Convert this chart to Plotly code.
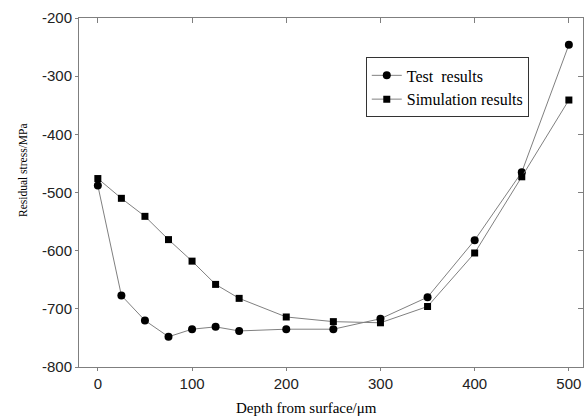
import plotly.graph_objects as go

depth = [0, 25, 50, 75, 100, 125, 150, 200, 250, 300, 350, 400, 450, 500]
test_results = [-488, -677, -720, -748, -735, -731, -738, -735, -735, -717, -680, -582, -465, -246]
sim_results = [-476, -510, -541, -581, -618, -658, -682, -714, -722, -724, -696, -604, -473, -341]

x_ticks = [0, 100, 200, 300, 400, 500]
y_ticks = [-800, -700, -600, -500, -400, -300, -200]
y_tick_text = ["-800", "-700", "-600", "-500", "-400", "-300", "-200"]

line_col = "#808080"
axis_col = "#7f7f7f"

fig = go.Figure()
fig.add_trace(go.Scatter(
    x=depth, y=test_results, mode="lines+markers", name="Test  results",
    line=dict(color=line_col, width=1),
    marker=dict(symbol="circle", size=8, color="black"),
))
fig.add_trace(go.Scatter(
    x=depth, y=sim_results, mode="lines+markers", name="Simulation results",
    line=dict(color=line_col, width=1),
    marker=dict(symbol="square", size=7, color="black"),
))
# invisible trace to anchor mirrored inside-tick axes
fig.add_trace(go.Scatter(x=[depth[0]], y=[test_results[0]], xaxis="x2", yaxis="y2",
                         mode="markers", marker=dict(opacity=0), showlegend=False,
                         hoverinfo="skip"))

xr = [-20, 515]
yr = [-800, -200]
tick_font = dict(family="Liberation Sans", size=15, color="#222222")
fig.update_layout(
    width=585, height=420,
    margin=dict(l=79, r=2, t=18, b=53),
    paper_bgcolor="white", plot_bgcolor="white",
    showlegend=True,
    legend=dict(
        x=0.569, y=0.887, xanchor="left", yanchor="top",
        bgcolor="white", bordercolor="#333333", borderwidth=1,
        font=dict(family="Liberation Serif", size=16, color="black"),
        tracegroupgap=0, itemwidth=30,
    ),
    xaxis=dict(
        range=xr, tickvals=x_ticks, ticks="outside", ticklen=3, tickcolor=axis_col,
        showgrid=False, zeroline=False, showline=True, linecolor=axis_col, linewidth=1,
        tickfont=tick_font,
    ),
    yaxis=dict(
        range=yr, tickvals=y_ticks, ticktext=y_tick_text, ticks="outside", ticklen=3,
        tickcolor=axis_col,
        showgrid=False, zeroline=False, showline=True, linecolor=axis_col, linewidth=1,
        tickfont=tick_font,
    ),
    xaxis2=dict(
        range=xr, tickvals=x_ticks, ticks="inside", ticklen=5, tickcolor=axis_col,
        showticklabels=False, overlaying="x", side="top", anchor="y2",
        showgrid=False, zeroline=False, showline=True, linecolor=axis_col, linewidth=1,
    ),
    yaxis2=dict(
        range=yr, tickvals=y_ticks, ticks="inside", ticklen=5, tickcolor=axis_col,
        showticklabels=False, overlaying="y", side="right", anchor="x2",
        showgrid=False, zeroline=False, showline=True, linecolor=axis_col, linewidth=1,
    ),
    annotations=[
        dict(text="Depth from surface/μm", xref="paper", yref="paper",
             x=(306 - 79) / 504, y=-(408 - 367) / 349, xanchor="center", yanchor="middle",
             showarrow=False, font=dict(family="Liberation Serif", size=15, color="black")),
        dict(text="Residual stress/MPa", xref="paper", yref="paper",
             x=-(79 - 23) / 504, y=(367 - 170) / 349, xanchor="center", yanchor="middle",
             textangle=-90, showarrow=False,
             font=dict(family="Liberation Serif", size=11.5, color="black")),
    ],
)

fig.write_html("out.html")
